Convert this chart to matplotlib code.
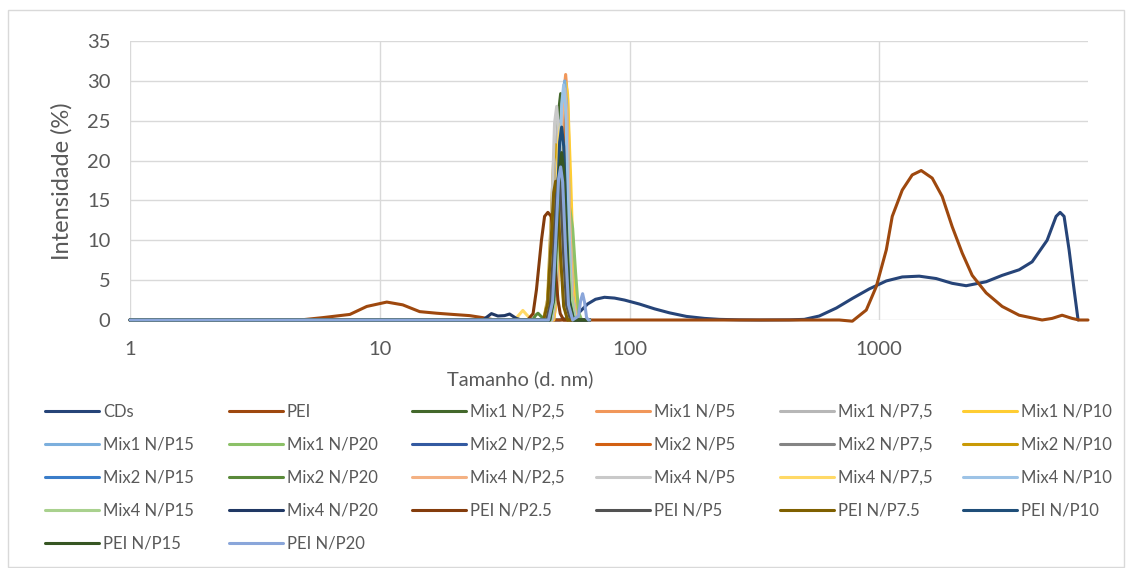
import matplotlib
matplotlib.use("Agg")
import matplotlib.pyplot as plt
from matplotlib.ticker import NullLocator
from matplotlib.patches import Rectangle

plt.rcParams['font.family'] = ['Lato', 'DejaVu Sans']

# ---------------- data (size in d.nm, intensity in %) ----------------
cds_size = [1, 52.5, 58.6, 63.1, 67.9, 73.1, 79.4, 87.1, 95.5, 109.6, 125.9, 144.5, 169, 199.5, 229, 275, 331, 436, 501, 575,
            673, 780, 912, 1067, 1236, 1445, 1690, 1959, 2228, 2679, 3105, 3631, 4093, 4699, 5105, 5297, 5495, 5754, 6026, 6252]
cds_int = [0, 0, 0.3, 1.0, 2.0, 2.6, 2.85, 2.75, 2.5, 2.0, 1.4, 0.9, 0.45, 0.2, 0.08, 0.02, 0, 0.02, 0.08, 0.5,
           1.5, 2.7, 3.9, 4.9, 5.4, 5.5, 5.2, 4.6, 4.3, 4.8, 5.6, 6.3, 7.3, 10.0, 13.0, 13.5, 13.0, 8.8, 3.8, 0]

pei_size = [1, 4.79, 5.92, 7.59, 8.87, 10.67, 12.36, 14.45, 16.9, 19.59, 22.9, 25.8, 28.8, 692, 780, 887, 973, 1067,
            1127, 1236, 1355, 1472, 1629, 1786, 1959, 2148, 2355, 2679, 3105, 3631, 4487, 4920, 5395, 5916, 6310, 6850]
pei_int = [0, 0, 0.3, 0.7, 1.7, 2.25, 1.9, 1.05, 0.85, 0.7, 0.55, 0.3, 0, 0, -0.15, 1.25, 4.2, 8.8,
           13.0, 16.3, 18.2, 18.75, 17.8, 15.5, 11.7, 8.4, 5.6, 3.4, 1.7, 0.6, 0, 0.2, 0.6, 0.2, 0, 0]

mix1_np2_5_size = [1, 47.4, 49.2, 50.6, 52.0, 53.0, 54.0, 55.5, 57.0, 59.2, 69.2]
mix1_np2_5_int = [0, 0, 3.4, 14.2, 26.1, 28.4, 25.6, 12.8, 2.8, 0, 0]

mix1_np5_size = [1, 49.7, 51.5, 53.0, 54.5, 55.5, 56.5, 58.1, 59.7, 61.9, 69.2]
mix1_np5_int = [0, 0, 3.7, 15.4, 28.3, 30.8, 27.7, 13.9, 3.1, 0, 0]

mix1_np7_5_size = [1, 46.6, 48.3, 49.7, 51.1, 52.0, 53.0, 54.5, 56.0, 58.1, 69.2]
mix1_np7_5_int = [0, 0, 3.0, 12.5, 23.0, 25.0, 22.5, 11.3, 2.5, 0, 0]

mix1_np10_size = [1, 49.7, 51.5, 53.0, 54.5, 55.5, 56.5, 58.1, 59.7, 61.9, 69.2]
mix1_np10_int = [0, 0, 3.6, 14.9, 27.4, 29.8, 28.3, 17.9, 6.0, 0, 0]

mix1_np15_size = [1, 49.2, 51.1, 52.5, 54.0, 55.0, 56.0, 57.5, 59.2, 61.4, 69.2]
mix1_np15_int = [0, 0, 3.6, 15.0, 27.6, 30.0, 27.0, 13.5, 3.0, 0, 0]

mix1_np20_size = [1, 48.8, 50.6, 52.0, 53.5, 54.5, 55.5, 57.0, 59.2, 60.8, 62.5, 64.3, 69.2]
mix1_np20_int = [0, 0, 2.6, 11.0, 20.2, 22.0, 20.0, 15.0, 11.5, 6.0, 1.0, 0, 0]

mix2_np2_5_size = [1, 47.9, 49.7, 51.1, 52.5, 53.5, 54.5, 56.0, 57.5, 59.7, 69.2]
mix2_np2_5_int = [0, 0, 2.6, 11.0, 20.2, 22.0, 19.8, 9.9, 2.2, 0, 0]

mix2_np5_size = [1, 48.3, 50.1, 51.5, 53.0, 54.0, 55.0, 56.5, 58.1, 60.3, 69.2]
mix2_np5_int = [0, 0, 3.1, 13.1, 24.1, 26.2, 23.6, 11.8, 2.6, 0, 0]

mix2_np7_5_size = [1, 47.0, 48.8, 50.1, 51.5, 52.5, 53.5, 55.0, 56.5, 58.6, 69.2]
mix2_np7_5_int = [0, 0, 2.5, 10.5, 19.3, 21.0, 18.9, 9.5, 2.1, 0, 0]

mix2_np10_size = [1, 45.3, 47.0, 48.3, 49.7, 50.6, 51.5, 53.0, 54.5, 56.5, 69.2]
mix2_np10_int = [0, 0, 2.6, 11.0, 20.2, 22.0, 19.8, 9.9, 2.2, 0, 0]

mix2_np15_size = [1, 47.9, 49.7, 51.1, 52.5, 53.5, 54.5, 56.0, 57.5, 59.7, 69.2]
mix2_np15_int = [0, 0, 2.4, 10.0, 18.4, 20.0, 18.0, 9.0, 2.0, 0, 0]

mix2_np20_size = [1, 40.9, 42.1, 43.0, 44.1, 45.3, 47.9, 49.7, 51.1, 52.5, 53.5, 54.5, 56.0, 57.5, 59.7, 69.2]
mix2_np20_int = [0, 0, 0.6, 0.85, 0.5, 0.2, 0, 2.8, 11.7, 21.4, 23.3, 21.0, 10.5, 2.3, 0, 0]

mix4_np2_5_size = [1, 49.2, 51.1, 52.5, 54.0, 55.0, 56.0, 57.5, 59.2, 61.4, 69.2]
mix4_np2_5_int = [0, 0, 3.5, 14.5, 26.7, 29.0, 26.1, 13.1, 2.9, 0, 0]

mix4_np5_size = [1, 45.7, 47.4, 48.8, 50.1, 51.1, 52.0, 53.5, 55.0, 57.0, 69.2]
mix4_np5_int = [0, 0, 3.2, 13.4, 24.7, 26.8, 24.1, 12.1, 2.7, 0, 0]

mix4_np7_5_size = [1, 34.7, 36.0, 37.4, 38.9, 40.6, 47.4, 49.2, 50.6, 52.0, 53.0, 54.0, 55.5, 57.0, 59.2, 69.2]
mix4_np7_5_int = [0, 0, 0.6, 1.2, 0.6, 0, 0, 3.0, 12.3, 22.6, 24.6, 22.1, 11.1, 2.5, 0, 0]

mix4_np10_size = [1, 48.8, 50.6, 52.0, 53.5, 54.5, 55.5, 57.0, 58.6, 60.8, 69.2]
mix4_np10_int = [0, 0, 3.5, 14.8, 27.1, 29.5, 26.6, 13.3, 3.0, 0, 0]

mix4_np15_size = [1, 48.3, 50.1, 51.5, 53.0, 54.0, 55.0, 56.5, 58.1, 60.3, 69.2]
mix4_np15_int = [0, 0, 2.2, 9.0, 16.6, 18.0, 16.2, 10.0, 4.0, 0, 0]

mix4_np20_size = [1, 25.9, 28.0, 29.7, 31.6, 33.1, 35.2, 37.0, 47.4, 49.2, 50.6, 52.0, 53.0, 54.0, 55.5, 57.0, 59.2, 69.2]
mix4_np20_int = [0, 0, 0.8, 0.5, 0.55, 0.75, 0.2, 0, 0, 2.4, 10.0, 18.4, 20.0, 18.0, 9.0, 2.0, 0, 0]

pei_np2_5_size = [1, 39.1, 41.1, 42.4, 44.4, 45.7, 47.1, 48.6, 49.7, 50.6, 51.7, 52.8, 54.5, 69.2]
pei_np2_5_int = [0, 0, 0.8, 3.8, 10.0, 13.0, 13.5, 13.0, 10.0, 5.9, 2.5, 0.8, 0, 0]

pei_np5_size = [1, 46.6, 48.3, 49.7, 51.1, 52.0, 53.0, 54.5, 56.0, 58.1, 69.2]
pei_np5_int = [0, 0, 2.2, 9.0, 16.6, 18.0, 16.2, 8.1, 1.8, 0, 0]

pei_np7_5_size = [1, 45.3, 47.0, 48.3, 49.7, 50.6, 51.5, 53.0, 54.5, 56.5, 69.2]
pei_np7_5_int = [0, 0, 2.1, 8.7, 16.0, 17.4, 15.7, 7.8, 1.7, 0, 0]

pei_np10_size = [1, 47.9, 49.7, 51.1, 52.5, 53.5, 54.5, 56.0, 57.5, 59.7, 69.2]
pei_np10_int = [0, 0, 2.9, 12.1, 22.3, 24.2, 21.8, 10.9, 2.4, 0, 0]

pei_np15_size = [1, 47.9, 49.7, 51.1, 52.5, 53.5, 54.5, 56.0, 57.5, 59.7, 69.2]
pei_np15_int = [0, 0, 2.5, 10.5, 19.3, 21.0, 18.9, 9.5, 2.1, 0, 0]

pei_np20_size = [1, 47.4, 49.2, 50.6, 52.0, 53.0, 54.0, 55.5, 57.0, 59.2, 62.5, 63.7, 64.9, 66.1, 67.3, 68.5, 69.2]
pei_np20_int = [0, 0, 2.3, 9.6, 17.7, 19.2, 17.3, 8.6, 1.9, 0, 0.5, 2.4, 3.3, 2.2, 0.3, 0, 0]

series_labels = ["CDs", "PEI", "Mix1 N/P2,5", "Mix1 N/P5", "Mix1 N/P7,5", "Mix1 N/P10",
                 "Mix1 N/P15", "Mix1 N/P20", "Mix2 N/P2,5", "Mix2 N/P5", "Mix2 N/P7,5", "Mix2 N/P10",
                 "Mix2 N/P15", "Mix2 N/P20", "Mix4 N/P2,5", "Mix4 N/P5", "Mix4 N/P7,5", "Mix4 N/P10",
                 "Mix4 N/P15", "Mix4 N/P20", "PEI N/P2.5", "PEI N/P5", "PEI N/P7.5", "PEI N/P10",
                 "PEI N/P15", "PEI N/P20"]
series_sizes = [cds_size, pei_size, mix1_np2_5_size, mix1_np5_size, mix1_np7_5_size, mix1_np10_size,
                mix1_np15_size, mix1_np20_size, mix2_np2_5_size, mix2_np5_size, mix2_np7_5_size, mix2_np10_size,
                mix2_np15_size, mix2_np20_size, mix4_np2_5_size, mix4_np5_size, mix4_np7_5_size, mix4_np10_size,
                mix4_np15_size, mix4_np20_size, pei_np2_5_size, pei_np5_size, pei_np7_5_size, pei_np10_size,
                pei_np15_size, pei_np20_size]
series_ints = [cds_int, pei_int, mix1_np2_5_int, mix1_np5_int, mix1_np7_5_int, mix1_np10_int,
               mix1_np15_int, mix1_np20_int, mix2_np2_5_int, mix2_np5_int, mix2_np7_5_int, mix2_np10_int,
               mix2_np15_int, mix2_np20_int, mix4_np2_5_int, mix4_np5_int, mix4_np7_5_int, mix4_np10_int,
               mix4_np15_int, mix4_np20_int, pei_np2_5_int, pei_np5_int, pei_np7_5_int, pei_np10_int,
               pei_np15_int, pei_np20_int]
series_colors = ["#264478", "#9E480E", "#43682B", "#F1975A", "#B7B7B7", "#FFCD33",
                 "#7CAFDD", "#8CC168", "#335AA1", "#D26012", "#848484", "#C99A06",
                 "#3A7DC9", "#5A8A3A", "#F4B183", "#C9C9C9", "#FFD966", "#9DC3E6",
                 "#A9D18E", "#203864", "#843C0C", "#525252", "#7F6000", "#1F4E79",
                 "#375623", "#8AA6DA"]

x_ticks = [1, 10, 100, 1000]
x_tick_labels = ["1", "10", "100", "1000"]
y_ticks = [0, 5, 10, 15, 20, 25, 30, 35]

# ---------------- figure ----------------
W, H = 1132, 568
TXT = "#595959"
GRID = "#D9D9D9"
fig = plt.figure(figsize=(W / 100, H / 100), dpi=100)
fig.patches.append(Rectangle((8 / W, 1 - 567 / H), (1124 - 8) / W, (567 - 10) / H,
                             transform=fig.transFigure, fill=False, edgecolor=GRID, lw=1))

ax = fig.add_axes([130 / W, 1 - 320 / H, (1088 - 130) / W, (320 - 41) / H])
for s, v, c, lab in zip(series_sizes, series_ints, series_colors, series_labels):
    ax.plot(s, v, color=c, lw=2.2, label=lab, clip_on=False,
            solid_joinstyle="round", solid_capstyle="round")

ax.set_xscale("log")
ax.set_xlim(1, 6850)
ax.set_ylim(0, 35)
ax.set_xticks(x_ticks)
ax.set_xticklabels(x_tick_labels)
ax.xaxis.set_minor_locator(NullLocator())
ax.set_yticks(y_ticks)
ax.grid(True, which="major", color=GRID, lw=1)
ax.set_axisbelow(True)
for sp in ax.spines.values():
    sp.set_visible(False)
ax.tick_params(axis="both", length=0, colors=TXT, labelsize=14.5)
ax.tick_params(axis="y", pad=14)
ax.tick_params(axis="x", pad=15)

fig.text(62 / W, 1 - 181 / H, "Intensidade (%)", rotation=90, ha="center", va="center",
         fontsize=17, color=TXT)
fig.text(520 / W, 1 - 379 / H, "Tamanho (d. nm)", ha="center", va="center",
         fontsize=14.5, color=TXT)

# legend: 6 columns, row-major order like the original
handles, labels = ax.get_legend_handles_labels()
col_x = [45, 228.7, 412.4, 596, 779.7, 963.4]
row_y0, row_dy = 411.7, 33
for j in range(6):
    idx = list(range(j, len(handles), 6))
    hs = [handles[i] for i in idx]
    ls = [labels[i] for i in idx]
    yc = row_y0 + row_dy * (len(idx) - 1) / 2
    fig.legend(hs, ls, loc="center left", bbox_to_anchor=(col_x[j] / W, 1 - yc / H),
               frameon=False, fontsize=12, handlelength=3.24, handletextpad=0.24,
               labelspacing=1.02, borderpad=0, borderaxespad=0, labelcolor=TXT)

fig.savefig("out.png", dpi=100)
